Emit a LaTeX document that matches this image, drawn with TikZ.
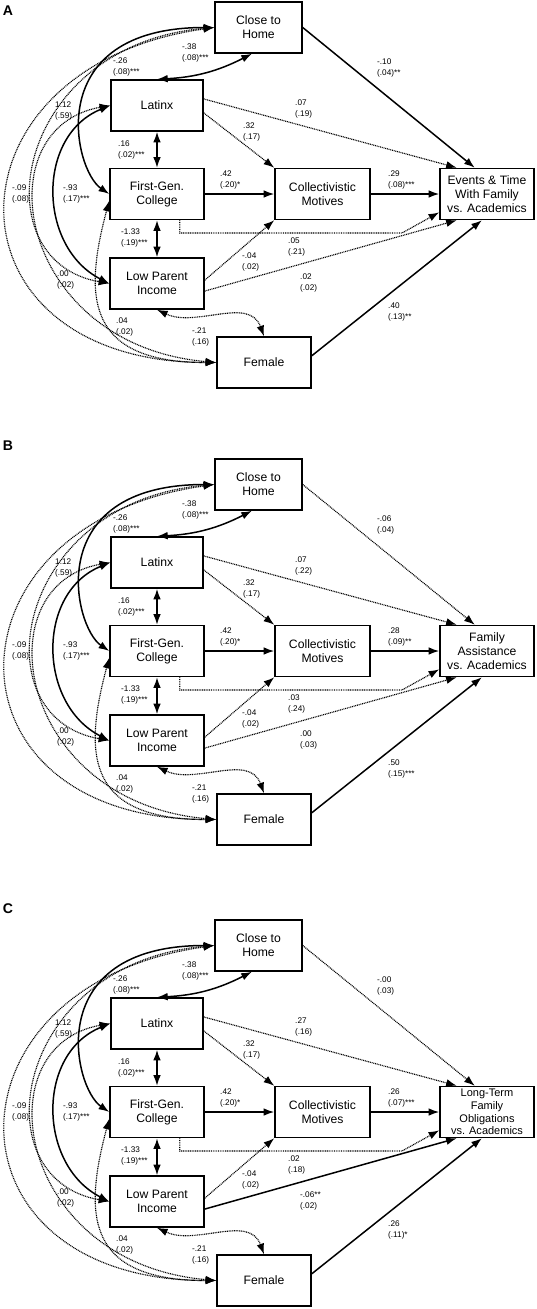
\documentclass[tikz,border=0pt]{standalone}
\usepackage{fontspec}
\setmainfont{Liberation Sans}
\usetikzlibrary{positioning, arrows.meta, calc}

\tikzset{
  box/.style={draw, line width=0.45mm, minimum width=28.2mm, minimum height=15.3mm,
    inner sep=1pt, align=center, font=\fontsize{10.4}{12}\selectfont},
  sig/.style={-{Latex[length=3.2mm,width=2.3mm]}, line width=0.45mm},
  ns/.style={-{Latex[length=3.2mm,width=2.3mm]}, line width=0.35mm, dash pattern=on 0.8pt off 0.7pt},
  sigcov/.style={{Latex[length=3.2mm,width=2.3mm]}-{Latex[length=3.2mm,width=2.3mm]}, line width=0.45mm},
  nscov/.style={{Latex[length=3.2mm,width=2.3mm]}-{Latex[length=3.2mm,width=2.3mm]}, line width=0.35mm, dash pattern=on 0.8pt off 0.7pt},
  est/.style={anchor=west, align=left, inner sep=0pt, font=\fontsize{7}{8.6}\selectfont},
  panel/.style={font=\fontsize{12}{12}\selectfont\bfseries}
}

% predictors, motives and covariances (same in every panel)
\newcommand{\predictors}[2]{%
\begin{scope}[yshift=#2]
  \node[box, minimum width=26.1mm] (#1close) at (258.5,-27.5) {Close to\\Home};
  \node[box, minimum width=27.6mm] (#1latinx) at (157,-105.5) {Latinx};
  \node[box] (#1gen) at (157,-194) {First-Gen.\\College};
  \node[box] (#1inc) at (157,-283.5) {Low Parent\\Income};
  \node[box] (#1fem) at (264,-362.5) {Female};
  \node[box, minimum width=28.5mm] (#1coll) at (322.5,-194) {Collectivistic\\Motives};

  % paths to motives
  \draw[ns] (#1latinx.-9) -- (#1coll.north west);
  \draw[sig] (#1gen) -- (#1coll);
  \draw[ns] (#1inc.4) -- (#1coll.south west);

  % covariances
  \draw[sigcov] (#1latinx.north) to[bend right=12] (#1close.-104);
  \draw[sigcov] (#1latinx) -- (#1gen);
  \draw[sigcov] (#1gen) -- (#1inc);
  \draw[sigcov] (#1close.west) to[out=180, in=146, out distance=52mm, in distance=13mm] (#1gen.west);
  \draw[sigcov] (#1latinx.west) to[out=202, in=153, looseness=1.15] (#1inc.west);
  \draw[nscov] (#1close.west) to[out=188, in=180, out distance=84mm, in distance=84mm] (#1fem.west);
  \draw[nscov] (#1close.west) to[out=185, in=170, out distance=60mm, in distance=40mm] (#1inc.west);
  \draw[nscov] (#1latinx.west) to[out=190, in=175, out distance=39mm, in distance=60mm] (#1fem.west);
  \draw[nscov] (#1gen.188) to[out=255, in=180, out distance=30mm, in distance=39mm] (#1fem.west);
  \draw[nscov] (#1inc.south) to[out=-25, in=110] (#1fem.north);

  % estimates
  \node[est] (#1ecl) at (182,-53) {-.38\\(.08)***};
  \node[est] (#1ecg) at (113,-67) {-.26\\(.08)***};
  \node[est] (#1eci) at (55,-111) {1.12\\(.59)};
  \node[est] (#1elg) at (118,-150) {.16\\(.02)***};
  \node[est] (#1ecf) at (12,-194) {-.09\\(.08)};
  \node[est] (#1eli) at (63,-194) {-.93\\(.17)***};
  \node[est] (#1egc) at (220,-180) {.42\\(.20)*};
  \node[est] (#1egi) at (121,-238) {-1.33\\(.19)***};
  \node[est] (#1elf) at (57,-280) {.00\\(.02)};
  \node[est] (#1egf) at (116,-327) {.04\\(.02)};
  \node[est] (#1eif) at (192,-337) {-.21\\(.16)};
  \node[est] (#1eic) at (242,-262) {-.04\\(.02)};
  \node[est] (#1elc) at (243,-132) {.32\\(.17)};
\end{scope}}

\begin{document}
\begin{tikzpicture}[x=0.3mm, y=0.3mm]
  \useasboundingbox (0,0) rectangle (536,-1309);

  % A
  \node[panel] (labA) at (8,-10.5) {A};
  \predictors{a}{0mm}
  \node[box] (aout) at (487,-194) {Events \& Time\\With Family\\vs. Academics};
  \coordinate (abend) at (402,-233);
  \draw[sig] (aclose.east) -- (aout.115);
  \draw[ns] (alatinx.8) -- (aout.139);
  \draw[sig] (acoll) -- (aout);
  \draw[ns] (agen.-49) |- (abend) -- (aout.-159);
  \draw[ns] (ainc.-9) -- (aout.-139);
  \draw[sig] (afem.8) -- (aout.-101);
  \node[est] (aeco) at (377,-68) {-.10\\(.04)**};
  \node[est] (aelo) at (295,-109) {.07\\(.19)};
  \node[est] (aemo) at (388,-180) {.29\\(.08)***};
  \node[est] (aego) at (288,-247) {.05\\(.21)};
  \node[est] (aeio) at (300,-283) {.02\\(.02)};
  \node[est] (aefo) at (388,-312) {.40\\(.13)**};

  % B
  \node[panel] (labB) at (8,-446) {B};
  \predictors{b}{-137.1mm}
  \begin{scope}[yshift=-137.1mm]
    \node[box] (bout) at (487,-194) {Family\\Assistance\\vs. Academics};
    \coordinate (bbend) at (402,-233);
    \draw[ns] (bclose.east) -- (bout.115);
    \draw[ns] (blatinx.8) -- (bout.139);
    \draw[sig] (bcoll) -- (bout);
    \draw[ns] (bgen.-49) |- (bbend) -- (bout.-159);
    \draw[ns] (binc.-9) -- (bout.-139);
    \draw[sig] (bfem.8) -- (bout.-101);
    \node[est] (beco) at (377,-68) {-.06\\(.04)};
    \node[est] (belo) at (295,-109) {.07\\(.22)};
    \node[est] (bemo) at (388,-180) {.28\\(.09)**};
    \node[est] (bego) at (288,-247) {.03\\(.24)};
    \node[est] (beio) at (300,-283) {.00\\(.03)};
    \node[est] (befo) at (388,-312) {.50\\(.15)***};
  \end{scope}

  % C
  \node[panel] (labC) at (8,-909) {C};
  \predictors{c}{-275.4mm}
  \begin{scope}[yshift=-275.4mm]
    \node[box, font=\fontsize{9.4}{10.8}\selectfont] (cout) at (487,-194) {Long-Term\\Family\\Obligations\\vs. Academics};
    \coordinate (cbend) at (402,-233);
    \draw[ns] (cclose.east) -- (cout.115);
    \draw[ns] (clatinx.8) -- (cout.139);
    \draw[sig] (ccoll) -- (cout);
    \draw[ns] (cgen.-49) |- (cbend) -- (cout.-159);
    \draw[sig] (cinc.-9) -- (cout.-139);
    \draw[sig] (cfem.8) -- (cout.-101);
    \node[est] (ceco) at (377,-68) {-.00\\(.03)};
    \node[est] (celo) at (295,-109) {.27\\(.16)};
    \node[est] (cemo) at (388,-180) {.26\\(.07)***};
    \node[est] (cego) at (288,-247) {.02\\(.18)};
    \node[est] (ceio) at (300,-283) {-.06**\\(.02)};
    \node[est] (cefo) at (388,-312) {.26\\(.11)*};
  \end{scope}
\end{tikzpicture}
\end{document}
